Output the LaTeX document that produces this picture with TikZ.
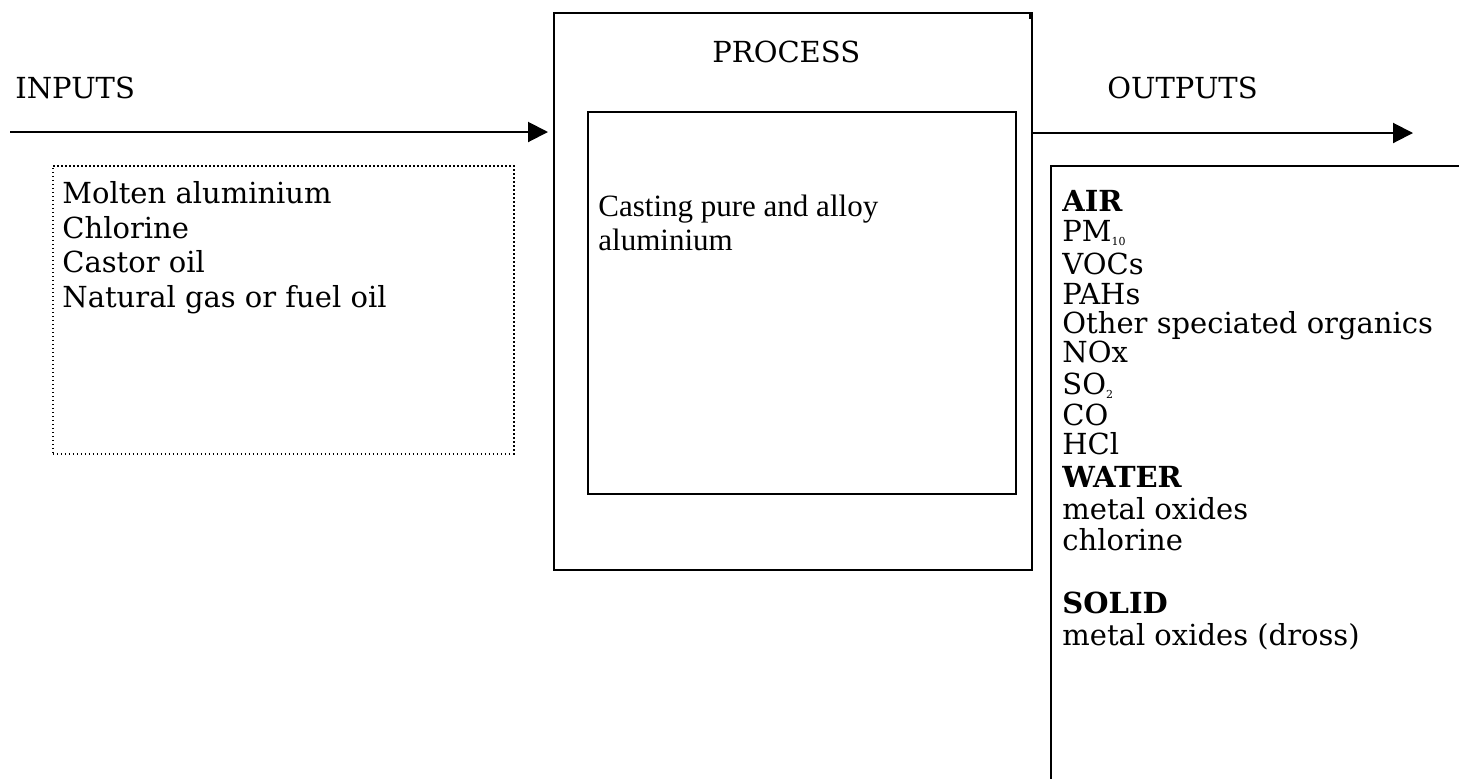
\documentclass[tikz,border=0pt]{standalone}
\usepackage{fontspec}
\setmainfont{DejaVu Serif}
\newfontfamily\timesfont{Liberation Serif}
\usetikzlibrary{arrows.meta}
\newcommand{\tinysub}[1]{\raisebox{-0.3ex}{\fontsize{5.5}{6}\selectfont #1}}
\begin{document}
\begin{tikzpicture}[x=0.5pt,y=-0.5pt,
  box/.style={draw, line width=1pt, inner sep=0pt, anchor=north west},
  dotbox/.style={draw, line width=0.8pt, dash pattern=on 0.8pt off 1.2pt, inner sep=0pt, anchor=north west},
  flow/.style={line width=1pt, -{Triangle[length=10pt,width=10pt]}},
  lbl/.style={anchor=base west, inner sep=0pt, font=\fontsize{14.5}{17}\selectfont},
  bl/.style={lbl, font=\fontsize{14.5}{17}\selectfont\bfseries},
  tlbl/.style={anchor=base west, inner sep=0pt, font=\timesfont\fontsize{15.5}{18}\selectfont},
]
\useasboundingbox (0,0) rectangle (1459,778);
\clip (0,0) rectangle (1459,778);

% boxes
\node[box, minimum width=239pt, minimum height=278.5pt] (proc) at (553,12) {};
\draw[line width=1pt] ([xshift=-1.5pt]proc.north east) -- ++(0,7);
\node[box, minimum width=214pt, minimum height=191pt] (inner) at (587,111) {};
\node[dotbox, minimum width=230.5pt, minimum height=144pt] (inbox) at (52,165) {};
\node[box, minimum width=250pt, minimum height=350pt] (outbox) at (1050,165) {};

% arrows
\coordinate (inS) at (10,132);
\coordinate (outE) at (1413,133);
\draw[flow] (inS) -- ([xshift=-2.5pt]proc.west |- inS);
\draw[flow] (proc.east |- outE) -- (outE);

% headings
\node[lbl] (tin) at (15,98) {INPUTS};
\node[lbl] (tproc) at (712,62) {PROCESS};
\node[lbl] (tout) at (1107,98) {OUTPUTS};

% inputs
\node[lbl] (i1) at (62,203) {Molten aluminium};
\node[lbl] (i2) at (62,238) {Chlorine};
\node[lbl] (i3) at (62,272) {Castor oil};
\node[lbl] (i4) at (62,307) {Natural gas or fuel oil};

% process text
\node[tlbl] (p1) at (598,216) {Casting pure and alloy};
\node[tlbl] (p2) at (598,250) {aluminium};

% outputs
\node[bl]  (o1)  at (1062,211) {AIR};
\node[lbl] (o2)  at (1062,241) {PM\tinysub{10}};
\node[lbl] (o3)  at (1062,274) {VOCs};
\node[lbl] (o4)  at (1062,304) {PAHs};
\node[lbl] (o5)  at (1062,333) {Other speciated organics};
\node[lbl] (o6)  at (1062,362) {NOx};
\node[lbl] (o7)  at (1062,394) {SO\tinysub{2}};
\node[lbl] (o8)  at (1062,425) {CO};
\node[lbl] (o9)  at (1062,454) {HCl};
\node[bl]  (o10) at (1062,487) {WATER};
\node[lbl] (o11) at (1062,519) {metal oxides};
\node[lbl] (o12) at (1062,550) {chlorine};
\node[bl]  (o13) at (1062,613) {SOLID};
\node[lbl] (o14) at (1062,645) {metal oxides (dross)};
\end{tikzpicture}
\end{document}
